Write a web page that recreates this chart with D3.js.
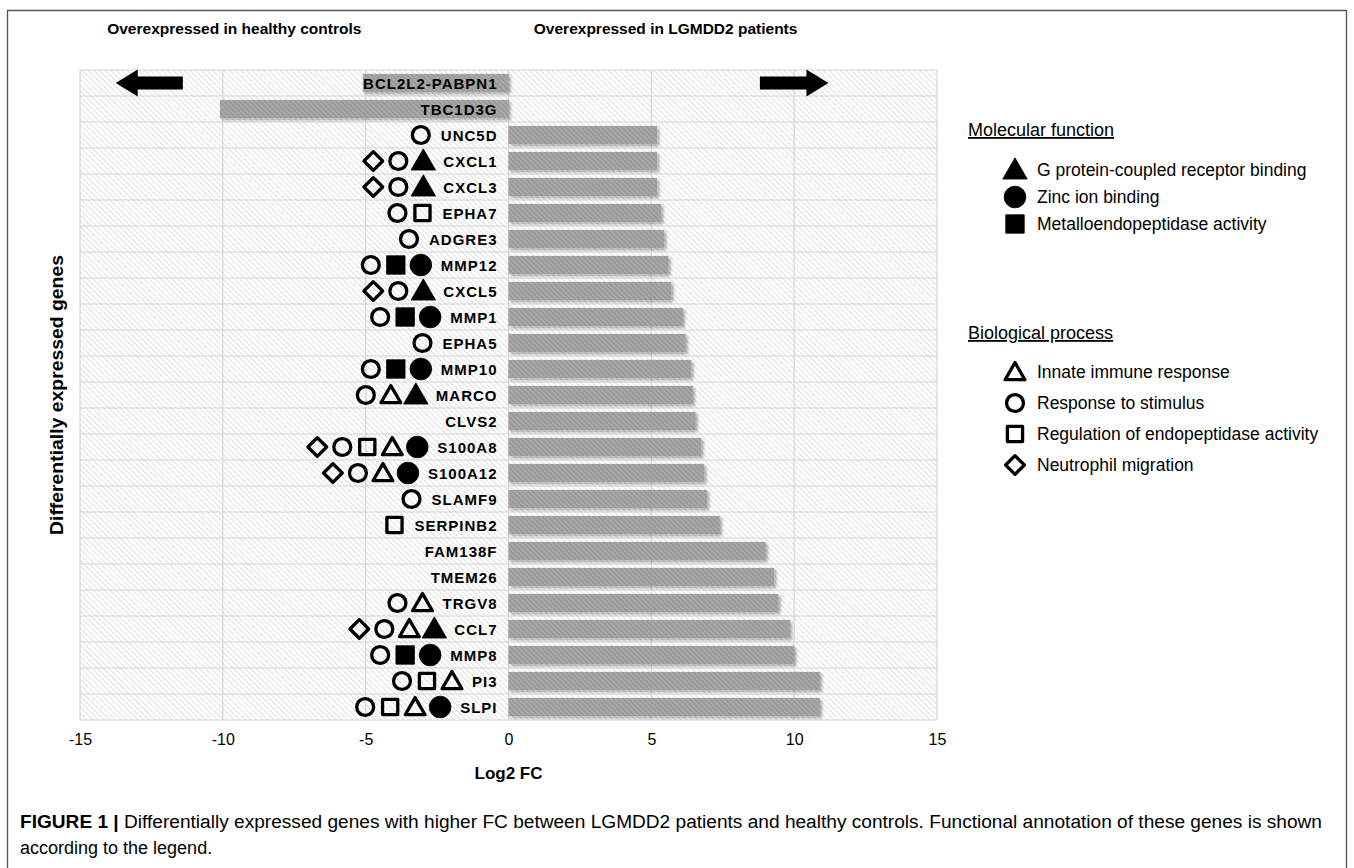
<!DOCTYPE html>
<html><head><meta charset="utf-8">
<script src="https://cdn.jsdelivr.net/npm/d3@7"></script>
<style>
body{margin:0;background:#fff;}
text{font-family:"Liberation Sans",Arial,sans-serif;fill:#000;}
</style>
</head><body>
<svg id="chart" width="1354" height="868"></svg>
<script>
// ---------------- DATA ----------------
const genes = ["BCL2L2-PABPN1","TBC1D3G","UNC5D","CXCL1","CXCL3","EPHA7","ADGRE3","MMP12","CXCL5","MMP1","EPHA5","MMP10","MARCO","CLVS2","S100A8","S100A12","SLAMF9","SERPINB2","FAM138F","TMEM26","TRGV8","CCL7","MMP8","PI3","SLPI"];
const log2FC = [-5.1,-10.1,5.2,5.2,5.2,5.35,5.45,5.6,5.7,6.1,6.2,6.4,6.45,6.55,6.75,6.85,6.95,7.4,9.0,9.3,9.45,9.85,10.0,10.9,10.9];
// symbol codes (left to right): tri=G protein-coupled receptor binding, dot=Zinc ion binding,
// sq=Metalloendopeptidase activity, otri=Innate immune response, ocirc=Response to stimulus,
// osq=Regulation of endopeptidase activity, odia=Neutrophil migration
const annotations = [
  [],[],["ocirc"],["odia","ocirc","tri"],["odia","ocirc","tri"],["ocirc","osq"],["ocirc"],
  ["ocirc","sq","dot"],["odia","ocirc","tri"],["ocirc","sq","dot"],["ocirc"],["ocirc","sq","dot"],
  ["ocirc","otri","tri"],[],["odia","ocirc","osq","otri","dot"],["odia","ocirc","otri","dot"],
  ["ocirc"],["osq"],[],[],["ocirc","otri"],["odia","ocirc","otri","tri"],["ocirc","sq","dot"],
  ["ocirc","osq","otri"],["ocirc","osq","otri","dot"]
];
const xTicks = [-15,-10,-5,0,5,10,15];
const sideTitles = ["Overexpressed in healthy controls","Overexpressed in LGMDD2 patients"];
const mfSymbols = ["tri","dot","sq"];
const mfLabels = ["G protein-coupled receptor binding","Zinc ion binding","Metalloendopeptidase activity"];
const bpSymbols = ["otri","ocirc","osq","odia"];
const bpLabels = ["Innate immune response","Response to stimulus","Regulation of endopeptidase activity","Neutrophil migration"];
const arrowSpans = [[-11.4,-13.75],[8.8,11.2]]; // [tail, tip] in Log2 FC units

// ---------------- LAYOUT ----------------
const svg = d3.select("#chart");
const W = 1354, H = 868;
const plot = {left:80, right:937, top:70, bottom:720};
const x = d3.scaleLinear().domain([-15,15]).range([plot.left, plot.right]);
const y = d3.scaleBand().domain(genes).range([plot.top, plot.bottom]).paddingInner(0.3).paddingOuter(0.15);

svg.append("rect").attr("width",W).attr("height",H).attr("fill","#fff");

const defs = svg.append("defs");
const bg = defs.append("pattern").attr("id","bgHatch").attr("patternUnits","userSpaceOnUse")
  .attr("width",4).attr("height",4).attr("patternTransform","rotate(-45)");
bg.append("rect").attr("width",4).attr("height",4).attr("fill","#fff");
bg.append("line").attr("x1",0).attr("y1",0).attr("x2",0).attr("y2",4).attr("stroke","#d0d0d0").attr("stroke-width",1.3);
const bh = defs.append("pattern").attr("id","barHatch").attr("patternUnits","userSpaceOnUse")
  .attr("width",3.6).attr("height",3.6).attr("patternTransform","rotate(-45)");
bh.append("rect").attr("width",3.6).attr("height",3.6).attr("fill","#a6a6a6");
bh.append("line").attr("x1",0).attr("y1",0).attr("x2",0).attr("y2",3.6).attr("stroke","#8c8c8c").attr("stroke-width",1.4);
const sh = defs.append("filter").attr("id","shadow").attr("x","-5%").attr("y","-30%").attr("width","115%").attr("height","180%");
sh.append("feDropShadow").attr("dx",2).attr("dy",2).attr("stdDeviation",1.8).attr("flood-color","#000").attr("flood-opacity",0.35);

// frame
svg.append("path").attr("d",`M7.5,${H+2}V10.5H1346.5V${H+2}`).attr("fill","none").attr("stroke","#555").attr("stroke-width",1.3);

// plot background
svg.append("rect").attr("x",plot.left).attr("y",plot.top).attr("width",plot.right-plot.left)
  .attr("height",plot.bottom-plot.top).attr("fill","url(#bgHatch)");

// gridlines
const step = y.step();
const rowEdges = d3.range(genes.length+1).map(i => plot.top + i*step);
svg.append("g").selectAll("line").data(rowEdges).join("line")
  .attr("x1",plot.left).attr("x2",plot.right).attr("y1",d=>d).attr("y2",d=>d)
  .attr("stroke","#d6d6d6").attr("stroke-width",1.2);
svg.append("g").selectAll("line").data(xTicks).join("line")
  .attr("x1",d=>x(d)).attr("x2",d=>x(d)).attr("y1",plot.top).attr("y2",plot.bottom)
  .attr("stroke","#d6d6d6").attr("stroke-width",1.2);

// bars
svg.append("g").selectAll("rect").data(genes).join("rect")
  .attr("x",(g,i)=>x(Math.min(0,log2FC[i])))
  .attr("y",g=>y(g))
  .attr("width",(g,i)=>Math.abs(x(log2FC[i])-x(0)))
  .attr("height",y.bandwidth())
  .attr("fill","url(#barHatch)")
  .attr("filter","url(#shadow)");

// x axis tick labels
const xAxis = d3.axisBottom(x).tickValues(xTicks).tickFormat(d=>String(d)).tickSize(0).tickPadding(14);
const xg = svg.append("g").attr("transform",`translate(0,${plot.bottom})`).call(xAxis);
xg.select(".domain").remove();
xg.selectAll("text").attr("font-size",16).attr("font-family","Liberation Sans, Arial, sans-serif").attr("fill","#000");

svg.append("text").attr("x",x(0)).attr("y",779).attr("text-anchor","middle")
  .attr("font-size",17).attr("font-weight","bold").text("Log2 FC");
svg.append("text").attr("transform",`translate(63,${(plot.top+plot.bottom)/2}) rotate(-90)`)
  .attr("text-anchor","middle").attr("font-size",18).attr("font-weight","bold")
  .attr("textLength",280).attr("lengthAdjust","spacingAndGlyphs")
  .text("Differentially expressed genes");

// side titles
svg.append("g").selectAll("text").data(sideTitles).join("text")
  .attr("x",(d,i)=> i===0 ? x(-9.6) : x(5.5))
  .attr("y",34).attr("text-anchor","middle")
  .attr("font-size",15.5).attr("font-weight","bold")
  .text(d=>d);

// arrows
const ay = y(genes[0]) + y.bandwidth()/2;
svg.append("g").selectAll("path").data(arrowSpans).join("path")
  .attr("d",([t,p])=>{
    const xt = x(t), xp = x(p), dir = Math.sign(xp-xt), hl = 22*dir, hs = 6.5, hh = 13.5;
    const xb = xp - hl;
    return `M${xt},${ay-hs}L${xb},${ay-hs}L${xb},${ay-hh}L${xp},${ay}L${xb},${ay+hh}L${xb},${ay+hs}L${xt},${ay+hs}Z`;
  }).attr("fill","#000");

// symbol generator
function symPath(code){
  const map = {
    tri:[d3.symbolTriangle,260], dot:[d3.symbolCircle,370], sq:[d3.symbolSquare,340],
    otri:[d3.symbolTriangle,170], ocirc:[d3.symbolCircle,225], osq:[d3.symbolSquare,230],
    odia:[d3.symbolSquare,175]
  };
  const [t,s] = map[code];
  return d3.symbol().type(t).size(s)();
}
function drawSym(sel, code){
  const filled = ["tri","dot","sq"].includes(code);
  sel.append("path").attr("d",symPath(code))
    .attr("transform", code==="odia" ? "rotate(45)" : (code.includes("tri") ? "translate(0,2)" : null))
    .attr("fill", filled ? "#000" : "none")
    .attr("stroke","#000").attr("stroke-width", filled ? 0.8 : 3.3)
    .attr("stroke-linejoin","round");
}

// gene labels + annotation symbols
const labelRight = x(0) - 11;
const lg = svg.append("g");
genes.forEach((g,i)=>{
  const cy = y(g) + y.bandwidth()/2;
  const t = lg.append("text").attr("x",labelRight).attr("y",cy+5.5).attr("text-anchor","end")
    .attr("font-size",15).attr("font-weight","bold").attr("letter-spacing",1).text(g);
  const w = t.node().getComputedTextLength();
  const start = labelRight - w;
  const syms = annotations[i];
  syms.forEach((code,k)=>{
    const cx = start - 20 - (syms.length-1-k)*25;
    drawSym(lg.append("g").attr("transform",`translate(${cx},${cy})`), code);
  });
});

// legends
function legend(title, ty, codes, labels, y0, dy){
  svg.append("text").attr("x",968).attr("y",ty).attr("font-size",18)
    .attr("text-decoration","underline").text(title);
  codes.forEach((c,i)=>{
    const cy = y0 + i*dy;
    drawSym(svg.append("g").attr("transform",`translate(1015,${cy})`), c);
    svg.append("text").attr("x",1037).attr("y",cy+6).attr("font-size",17.5).text(labels[i]);
  });
}
legend("Molecular function",136,mfSymbols,mfLabels,170,27);
legend("Biological process",339,bpSymbols,bpLabels,372,31);

// caption
const cap = svg.append("text").attr("x",20).attr("y",828).attr("font-size",18).attr("fill","#222")
  .attr("textLength",1302).attr("lengthAdjust","spacingAndGlyphs");
cap.append("tspan").attr("font-weight","bold").text("FIGURE 1 | ");
cap.append("tspan").text("Differentially expressed genes with higher FC between LGMDD2 patients and healthy controls. Functional annotation of these genes is shown");
svg.append("text").attr("x",20).attr("y",854).attr("font-size",18).attr("fill","#222").text("according to the legend.");
</script>
</body></html>
